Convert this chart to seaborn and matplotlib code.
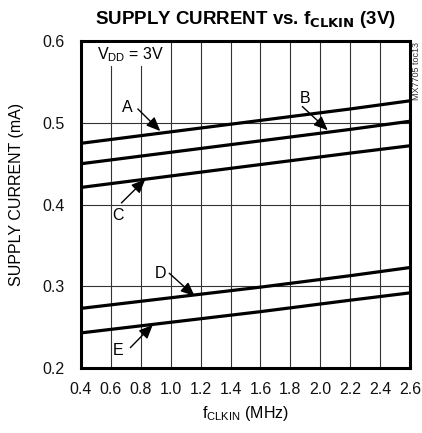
import matplotlib
matplotlib.use("Agg")
import matplotlib.pyplot as plt
import pandas as pd
import seaborn as sns

# supply current (mA) vs clock frequency (MHz)
freq = [0.4, 1.0, 1.6, 2.2, 2.6]
curve_a = [0.475, 0.489, 0.503, 0.517, 0.527]
curve_b = [0.450, 0.464, 0.478, 0.492, 0.502]
curve_c = [0.421, 0.435, 0.449, 0.463, 0.472]
curve_d = [0.273, 0.286, 0.299, 0.313, 0.323]
curve_e = [0.243, 0.256, 0.269, 0.283, 0.292]

x_ticks = [0.4, 0.6, 0.8, 1.0, 1.2, 1.4, 1.6, 1.8, 2.0, 2.2, 2.4, 2.6]
y_ticks = [0.2, 0.3, 0.4, 0.5, 0.6]

# label text position, arrow tail, arrow head (data coords)
labels = {
    "A": ((0.71, 0.519), (0.78, 0.517), (0.93, 0.490)),
    "B": ((1.90, 0.530), (1.88, 0.520), (2.05, 0.491)),
    "C": ((0.65, 0.387), (0.67, 0.402), (0.83, 0.431)),
    "D": ((0.93, 0.316), (0.99, 0.316), (1.16, 0.288)),
    "E": ((0.65, 0.222), (0.73, 0.225), (0.88, 0.253)),
}

rows = []
for name, vals in zip("ABCDE", [curve_a, curve_b, curve_c, curve_d, curve_e]):
    for f, v in zip(freq, vals):
        rows.append({"freq": f, "current": v, "curve": name})
df = pd.DataFrame(rows)

sns.set_theme(style="white")
fam = ["Liberation Sans", "DejaVu Sans"]
plt.rcParams["font.family"] = fam
plt.rcParams["text.color"] = "black"
plt.rcParams["axes.labelcolor"] = "black"

fig = plt.figure(figsize=(4.22, 4.33), dpi=100)
ax = fig.add_axes([0.192, 0.150, 0.7796, 0.755])

sns.lineplot(data=df, x="freq", y="current", hue="curve",
             palette=["black"] * 5, linewidth=2.3, legend=False, ax=ax)

ax.set_xlim(0.4, 2.6)
ax.set_ylim(0.2, 0.6)
ax.set_xticks(x_ticks)
ax.set_yticks(y_ticks)
ax.set_xticklabels([f"{t:.1f}" for t in x_ticks])
ax.set_yticklabels([f"{t:.1f}" for t in y_ticks])
ax.tick_params(axis="x", length=0, labelsize=11.5, colors="#111111", pad=10)
ax.tick_params(axis="y", length=0, labelsize=11.5, colors="#111111", pad=12)
ax.grid(True, color="#333333", linewidth=0.8)
for s in ax.spines.values():
    s.set_linewidth(2.2)
    s.set_color("black")

ax.set_xlabel(r"f$_{\mathregular{CLKIN}}$ (MHz)", fontsize=11.5, labelpad=5)
ax.set_ylabel("SUPPLY CURRENT (mA)", fontsize=11.5)
ax.yaxis.set_label_coords(-0.172, 0.53)
ax.set_title(r"SUPPLY CURRENT vs. f$_{\mathbf{CLKIN}}$ (3V)",
             fontsize=13.5, fontweight="bold", pad=12, color="black")

ax.text(0.51, 0.584, r"V$_{\mathregular{DD}}$ = 3V", fontsize=11.5,
        ha="left", va="center",
        bbox=dict(facecolor="white", edgecolor="none", pad=1.5))

for name, (txt, tail, head) in labels.items():
    ax.text(txt[0], txt[1], name, fontsize=11.5, ha="center", va="center")
    ax.annotate("", xy=head, xytext=tail,
                arrowprops=dict(arrowstyle="-|>,head_width=0.3,head_length=0.7",
                                color="black", lw=1.0, shrinkA=0, shrinkB=0))

fig.text(0.986, 0.835, "MX7705 toc13", rotation=90, fontsize=6.5,
         ha="center", va="center", color="#333333")

fig.savefig("out.png", dpi=100)
